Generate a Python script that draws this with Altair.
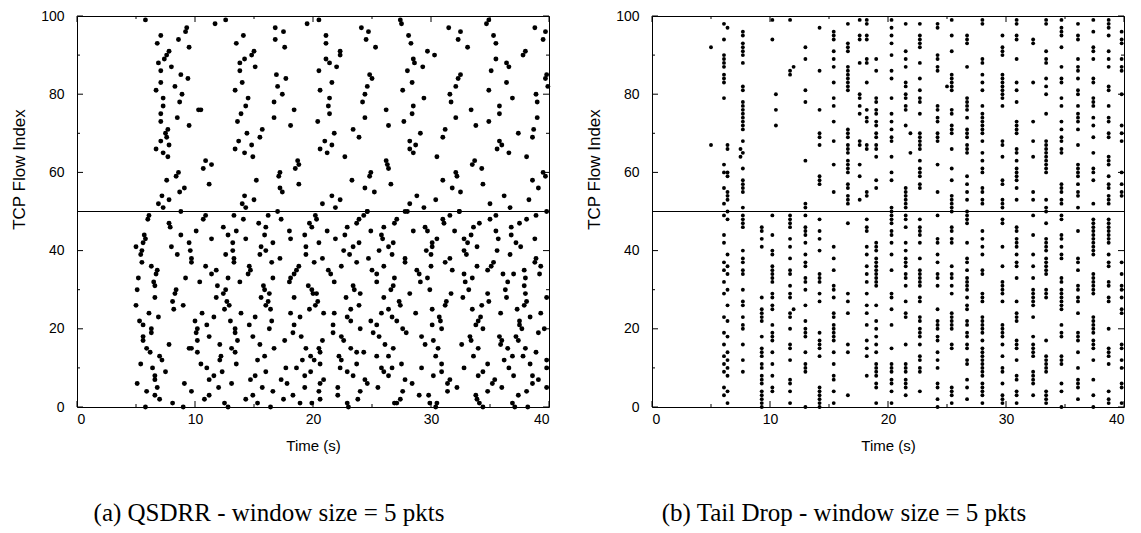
import altair as alt
import pandas as pd

# ---------------- data ----------------
# (a) QSDRR: (time s, flow index) pairs
qsdrr_upper = [
    (5.8,99),(7.1,95),(6.8,93),(9.3,97),(9.2,96),(8.6,94),(9.5,92),(7.8,91),(7.6,90),(7.4,89),(6.9,88),(8.0,87),
    (7.1,86),(8.8,85),(9.4,84),(7.1,83),(8.3,82),(6.7,81),(8.9,80),(7.3,79),(8.7,78),(7.3,77),(10.3,76),(10.5,76),
    (7.1,75),(8.5,74),(7.1,73),(9.5,72),(7.7,71),(7.5,70),(7.6,69),(7.1,68),(7.8,67),(6.7,66),(7.3,65),(7.7,64),
    (10.9,63),(11.4,62),(10.7,61),(8.6,60),(8.4,59),(7.6,58),(11.2,57),(9.1,56),(8.7,55),(7.2,54),(7.8,53),(6.9,52),
    (7.3,51),(8.8,50),
    (11.7,98),(12.6,99),(14.1,95),(13.5,93),(15.0,91),(14.8,90),(14.2,89),(13.8,88),(15.1,87),(13.8,86),(14.0,83),
    (13.4,81),(14.5,79),(14.3,77),(13.9,75),(13.6,73),(15.7,71),(14.4,70),(15.5,69),(13.7,68),(14.8,67),(13.4,66),
    (14.2,65),(14.9,64),(15.2,58),(14.2,54),(15.0,53),(14.0,52),(14.3,51),
    (16.8,97),(17.5,96),(16.8,94),(17.6,92),(16.9,85),(17.7,84),(17.0,82),(17.4,80),(16.7,78),(18.4,76),(16.7,74),
    (18.1,72),(18.7,63),(18.8,62),(18.5,61),(17.2,60),(17.1,59),(18.8,57),(17.2,56),(17.4,55),(17.0,50),(19.5,98),
    (20.5,99),(20.5,86),(20.6,81),(20.4,73),(20.6,66),
    (24.1,97),(24.7,96),(24.5,94),(25.3,92),(27.4,99),(27.5,98),(28.1,95),(28.3,93),(29.7,91),(30.3,90),(21.1,95),
    (21.1,93),(22.3,91),(22.3,90),(21.1,89),(21.4,88),(22.0,87),(21.6,83),(21.4,79),(21.3,77),(21.4,75),(21.8,70),
    (21.0,68),(21.6,67),(21.2,65),(22.7,64),(23.3,58),(23.4,71),(23.9,69),(24.4,74),(24.2,78),(24.4,80),(24.6,82),
    (24.8,85),(25.0,84),(26.2,76),(26.4,72),(26.2,63),(26.3,62),(26.4,61),(24.9,60),(24.8,59),(26.6,57),(24.4,56),
    (25.2,55),(21.6,54),(20.8,52),(21.9,51),(22.3,53),(24.6,50),
    (28.0,86),(28.5,89),(28.6,88),(29.3,87),(27.6,81),(28.4,83),(29.4,79),(28.5,77),(28.4,75),(27.7,73),(29.1,70),
    (28.2,68),(28.7,67),(28.2,66),(28.5,65),(30.5,64),(31.0,58),(28.2,52),(28.8,54),(29.4,51),(30.4,53),(27.8,50),
    (31.5,97),(32.5,96),(32.3,94),(33.1,92),(34.7,98),(34.9,99),(35.3,95),(35.5,93),(35.5,89),(36.4,88),(36.6,87),
    (35.1,86),(36.4,83),(34.9,81),(36.9,79),(35.8,77),(35.8,75),(34.9,73),(32.1,74),(33.4,76),(33.8,72),(31.7,78),
    (31.6,80),(32.1,82),(32.3,84),(32.5,85),(31.2,71),(31.0,69),(32.1,60),(32.2,59),(33.5,62),(33.7,63),(34.3,61),
    (34.4,57),(31.8,56),(32.5,55),(32.4,50),(35.0,52),(36.2,54),(36.7,51),(35.8,68),(36.0,67),(35.6,66),(36.6,65),
    (37.4,70),(37.8,90),(38.0,91),(38.8,97),(39.7,96),(39.5,94),(39.8,85),(39.7,84),(39.9,82),(38.9,80),(39.0,78),
    (39.0,74),(38.7,71),(38.6,69),(38.1,64),(39.5,60),(39.7,59),(38.6,58),(39.1,56),(38.3,53),(39.8,50),
]
qsdrr_lower_early = [
    (5.0,41),(5.7,44),(5.8,43),(5.6,42),(5.4,39),(5.5,40),(5.5,37),(5.2,33),(5.1,30),(5.0,26),(5.3,22),(5.6,21),
    (5.6,18),(5.6,17),(5.9,15),(6.2,14),(5.4,11),(5.1,6),(5.9,4),(6.6,3),(7.0,2),(5.8,0),(6.0,48),(6.1,49),(6.3,36),
    (6.8,35),(6.7,34),(6.5,32),(6.6,31),(6.6,28),(6.1,24),(6.9,23),(6.3,20),(6.3,19),(7.0,13),(7.2,12),(6.4,10),
    (7.5,9),(6.6,8),(6.6,7),(6.8,5),(7.8,47),(7.9,46),(8.0,41),(8.5,39),(8.8,44),(8.1,27),(8.4,30),(8.3,29),(8.2,25),
    (9.0,26),(7.8,16),(8.1,1),(9.2,33),(9.1,6),(9.0,0),(9.7,4),(9.6,40),(9.7,38),(9.7,37),(9.5,42),(10.1,45),
    (10.7,48),(10.9,49),(11.4,43),(10.4,32),(10.9,36),(11.4,34),(11.8,35),(10.0,22),(10.2,20),(10.1,19),(10.6,24),
    (10.2,17),(9.5,15),(9.7,15),(10.2,14),(10.5,11),(11.0,10),(11.2,18),(11.0,21),(11.6,23),(11.6,8),(11.2,7),
    (10.8,2),(11.2,3),(12.0,5),(12.5,1),(12.8,0),(12.1,12),(12.2,13),(12.1,16),(12.3,9),(13.1,6),(13.1,15),(13.4,14),
    (13.5,11),(13.0,22),(13.4,20),(13.4,19),(13.6,17),(13.9,24),(12.5,25),(12.9,26),(12.6,30),(12.4,29),(11.8,28),
    (12.7,27),(11.9,31),(12.8,33),(13.8,32),(12.6,39),(13.2,42),(13.2,40),(13.3,38),(13.3,37),(12.8,44),(12.4,46),
    (13.3,49),(13.5,45),(14.1,48),(14.3,43),(14.6,36),(14.7,35),(14.5,34),(14.9,18),(14.6,21),(15.1,23),(14.7,7),
    (14.3,2),(14.9,3),(15.3,1),(15.4,47),(16.2,49),(16.0,46),(17.3,48),(15.9,44),(15.6,41),(16.0,40),(15.5,39),
    (16.6,42),(15.8,31),(15.9,30),(16.3,29),(16.2,27),(15.6,28),(16.0,26),(16.4,25),(16.6,33),(16.5,37),(17.2,38),
    (16.5,22),(16.3,20),(15.5,16),(15.9,13),(15.3,12),(15.1,8),(16.0,9),(15.7,5),(16.4,0),(16.6,4),(16.7,15),
    (17.6,17),(17.3,7),(17.8,6),(17.5,2),(18.3,3),(18.9,1),(17.7,10),(18.1,33),(18.0,32),(18.4,34),(18.6,35),
    (18.8,36),(18.0,45),(18.1,43),(18.1,24),(18.4,28),(18.4,21),(18.3,19),(18.9,23),(19.0,18),(19.1,12),(18.6,10),
    (19.3,8),(19.3,5),(19.7,47),(19.9,46),(20.3,48),(20.2,49),(19.3,44),(19.4,41),(19.4,39),(20.1,37),(20.5,42),
    (19.6,31),(19.9,30),(20.0,29),(20.4,27),(20.2,26),(19.7,25),(19.4,15),(19.8,13),(20.1,12),(19.8,9),(20.5,15),
    (20.6,6),(20.5,4),(19.9,1),(20.6,2),
]
qsdrr_lower_late = [
    (21.2,45),(21.9,43),(22.7,44),(22.9,46),(23.7,47),(23.9,48),(24.3,49),(24.6,50),(22.6,40),(23.1,39),(23.4,41),
    (23.9,42),(20.8,38),(22.4,36),(23.7,37),(24.7,38),(21.3,35),(21.5,34),(21.8,32),(20.3,29),(20.9,24),(21.7,21),
    (21.7,19),(21.8,24),(20.8,17),(20.6,14),(20.6,11),(20.9,7),(22.1,5),(22.1,3),(22.2,13),(22.4,12),(22.3,10),
    (22.9,9),(23.4,8),(22.9,1),(23.0,0),(22.4,18),(23.2,15),(22.6,17),(22.9,23),(23.2,22),(23.2,25),(22.8,28),
    (23.4,31),(23.5,30),(24.0,29),(23.9,26),(24.0,20),(23.7,11),(23.7,14),(24.0,4),(23.8,2),(24.3,14),(24.4,7),
    (24.6,6),(25.5,5),(24.9,45),(25.8,44),(25.9,43),(26.0,46),(25.6,40),(26.4,41),(26.8,42),(26.0,36),(26.7,39),
    (25.0,35),(25.4,34),(25.4,32),(26.9,33),(26.8,31),(26.6,30),(26.0,28),(27.3,27),(27.4,26),(25.8,24),(26.4,25),
    (26.7,23),(27.1,22),(24.9,22),(25.1,19),(25.4,21),(25.6,18),(26.1,16),(26.8,15),(26.4,13),(25.4,13),(25.8,10),
    (26.0,9),(26.4,8),(26.7,10),(27.5,11),(27.6,20),(27.9,19),(26.9,1),(27.1,1),(27.4,2),(27.6,4),(27.8,7),(28.4,6),
    (29.2,10),(29.0,3),(29.8,3),(29.9,1),(30.4,0),(30.5,1),(30.2,8),(30.4,13),(30.9,11),(30.9,9),(31.4,6),(31.6,7),
    (31.4,4),(32.2,5),(33.8,3),(33.9,2),(34.1,1),(34.4,0),(34.8,4),(35.2,6),(35.4,7),(36.0,5),(36.9,1),(37.1,0),
    (37.4,3),(38.1,4),(38.2,0),(39.1,7),(38.6,6),(39.8,5),(39.8,12),(39.8,10),(38.4,11),(38.6,8),(38.0,15),(37.8,13),
    (38.9,14),(37.2,18),(37.4,17),(37.5,22),(37.5,21),(37.7,20),(37.3,25),(37.9,26),(38.1,27),(38.4,23),(39.1,19),
    (39.6,20),(39.3,24),(39.8,28),(38.0,29),(37.9,31),(38.0,33),(37.9,35),(38.8,37),(38.9,38),(39.3,36),(39.2,34),
    (37.0,34),(37.2,42),(37.6,41),(36.7,39),(36.8,46),(36.8,44),(37.5,47),(38.1,48),(38.9,49),(38.8,43),(35.5,45),
    (35.7,43),(35.5,49),(35.0,48),(34.1,47),(33.6,46),(33.4,44),(33.1,42),(32.8,43),(32.8,40),(33.0,39),(33.9,41),
    (35.6,40),(35.3,37),(35.1,36),(34.8,35),(33.9,36),(31.8,35),(31.2,37),(31.6,38),(32.0,45),(31.6,49),(32.4,50),
    (31.0,48),(31.1,47),(30.5,43),(30.1,42),(30.1,41),(30.0,39),(29.6,40),(29.7,45),(29.5,46),(30.0,36),(29.7,33),
    (29.9,30),(28.8,35),(29.0,34),(29.1,32),(27.8,38),(27.8,37),(28.5,45),(28.0,50),(27.1,48),(26.9,47),(28.7,24),
    (28.2,29),(30.1,25),(30.7,23),(30.8,22),(30.1,21),(30.9,20),(31.2,26),(31.3,27),(31.7,29),(32.9,32),(32.8,34),
    (33.5,33),(33.2,30),(32.7,28),(34.3,26),(33.5,25),(34.2,23),(34.0,22),(33.8,21),(34.4,20),(34.8,29),(34.9,27),
    (35.9,24),(36.4,28),(36.3,30),(36.5,32),(36.1,34),(33.3,18),(33.4,17),(32.6,16),(34.0,15),(30.2,17),(29.2,18),
    (29.5,16),(30.6,15),(33.6,13),(32.8,10),(34.4,9),(34.0,8),(34.8,11),(35.9,16),(35.8,18),(36.0,17),(36.5,15),
    (36.9,13),(36.2,12),(36.6,10),(37.0,8),
]

# (b) Tail Drop: columns of drops, (time s, [flow indices])
tail_columns = [
    (5.0, [92, 67]),
    (6.1, [98, 94, 90, 89, 88, 87, 85, 84, 83, 79, 62, 60, 56, 52, 49, 44, 42, 37, 35, 32, 29, 23, 19, 16, 13, 11, 9, 5, 3]),
    (6.4, [97, 67, 66, 60, 59, 55, 54, 53, 50, 48, 39, 36, 34, 30, 26, 22, 18, 14, 12, 10, 8, 4, 1]),
    (7.7, [96, 95, 93, 92, 91, 90, 88, 82, 81, 78, 77, 76, 75, 74, 73, 72, 71, 68, 65, 61, 58, 57, 56, 55, 51,
           49, 48, 47, 46, 40, 38, 37, 35, 34, 30, 27, 26, 23, 21, 20, 16, 12, 9]),
    (7.5, [66, 64]),
    (9.3, [46, 45, 43, 41, 28, 25, 24, 23, 22, 18, 15, 14, 13, 11, 10, 8, 7, 6, 4, 3, 2, 1, 0]),
    (10.2, [99, 94, 49, 44, 40, 39, 36, 35, 34, 33, 32, 29, 28, 26, 25, 21, 19, 18, 17, 14, 11, 8, 5, 4]),
    (10.5, [80, 76, 72]),
    (11.7, [99, 86, 85, 49, 48, 47, 46, 43, 41, 38, 35, 34, 31, 29, 28, 24, 23, 20, 16, 15, 12, 7, 6, 4, 1]),
    (12.0, [87, 25]),
    (13.0, [92, 89, 81, 78, 63, 52, 51, 49, 46, 45, 44, 42, 39, 37, 36, 33, 32, 30, 26, 22, 20, 19, 18, 14, 11, 10, 9, 0]),
    (14.2, [97, 86, 76, 70, 69, 67, 59, 58, 57, 48, 45, 43, 40, 34, 33, 32, 29, 27, 19, 17, 16, 15, 13, 5, 4, 3, 2, 1, 0]),
    (15.4, [96, 95, 94, 91, 89, 87, 83, 79, 77, 73, 68, 62, 55, 41, 38, 35, 31, 30, 28, 24, 23, 21, 20, 19, 18, 17,
            14, 11, 8, 7, 4, 1]),
    (16.6, [98, 93, 92, 91, 87, 86, 85, 84, 83, 82, 81, 71, 70, 69, 67, 66, 65, 63, 62, 61, 60, 57, 56, 54, 53, 52,
            47, 29, 27, 24, 16, 14, 3]),
    (17.6, [99, 95, 94, 88, 80, 79, 77, 75, 68, 67, 62, 59, 53]),
    (18.2, [99, 98, 95, 94, 89, 88, 83, 76, 74, 73, 67, 66, 55, 54, 48, 46, 45, 41, 39, 36, 34, 32, 29, 26, 24, 21,
            17, 15, 13, 8]),
    (19.0, [89, 86, 79, 78, 76, 75, 73, 72, 70, 69, 67, 66, 64, 58, 56, 42, 41, 40, 38, 37, 36, 35, 34, 33, 32, 31,
            26, 22, 20, 18, 16, 14, 11, 10, 9, 8, 6, 5, 1]),
    (20.3, [99, 97, 95, 93, 90, 86, 84, 79, 75, 73, 71, 69, 68, 64, 60, 58, 51, 50, 49, 48, 47, 45, 44, 42, 39, 35,
            29, 28, 25, 21, 15, 11, 10, 9, 7, 6, 4, 1]),
    (21.5, [98, 91, 89, 87, 83, 82, 80, 79, 77, 76, 72, 56, 55, 54, 53, 52, 51, 49, 48, 46, 42, 40, 38, 37, 36, 34,
            33, 31, 27, 24, 23, 16, 11, 10, 9, 7, 6, 5, 3]),
    (21.9, [70, 65]),
    (22.7, [98, 95, 94, 93, 92, 88, 84, 81, 79, 78, 75, 70, 69, 68, 67, 66, 63, 61, 60, 59, 57, 56, 48, 46, 45, 44,
            42, 38, 35, 34, 33, 32, 31, 28, 27, 23, 22, 20, 19, 18, 16, 13, 12, 10, 9, 4]),
    (24.2, [98, 97, 90, 89, 87, 86, 77, 76, 74, 73, 70, 69, 68, 62, 55, 49, 43, 42, 39, 37, 34, 33, 31, 25, 22, 21,
            20, 18, 17, 14, 12, 10, 6, 5, 2, 0]),
    (25.0, [82]),
    (25.4, [99, 95, 91, 85, 84, 83, 82, 81, 76, 75, 72, 71, 70, 66, 61, 58, 54, 53, 52, 51, 50, 46, 45, 43, 42, 36,
            34, 33, 31, 29, 24, 23, 22, 21, 20, 16, 15, 5, 4, 3, 1]),
    (26.7, [95, 94, 93, 87, 79, 78, 77, 76, 74, 71, 70, 69, 67, 66, 65, 59, 57, 55, 53, 50, 49, 48, 47, 42, 38, 37,
            35, 33, 32, 31, 30, 28, 26, 25, 22, 21, 19, 18, 16, 15, 12, 11, 7, 5, 2]),
    (28.0, [99, 98, 89, 88, 85, 83, 81, 77, 75, 74, 73, 72, 71, 70, 68, 65, 63, 61, 60, 56, 55, 53, 52, 45, 43, 41,
            39, 35, 34, 29, 28, 27, 23, 22, 21, 20, 19, 17, 15, 14, 13, 12, 11, 10, 9, 8, 6, 5, 4, 3, 1]),
    (29.7, [95, 92, 91, 90, 85, 84, 83, 82, 81, 80, 79, 77, 68, 67, 64, 58, 57, 53, 52, 51, 48, 47, 41, 36, 32, 31,
            30, 29, 27, 21, 20, 19, 18, 16, 13, 10, 9, 6, 3, 2, 1]),
    (30.9, [99, 98, 95, 94, 89, 83, 81, 78, 73, 72, 71, 70, 66, 65, 63, 61, 60, 59, 58, 56, 53, 46, 45, 43, 42, 41,
            39, 37, 36, 33, 27, 24, 23, 22, 17, 16, 15, 12, 8, 7, 4, 3, 1]),
    (32.3, [94, 93, 83, 73, 68, 64, 55, 53, 49, 44, 39, 36, 33, 30, 29, 28, 27, 26, 23, 18, 16, 15, 14, 13, 9, 8,
            7, 6, 3]),
    (33.4, [99, 98, 91, 89, 88, 84, 82, 80, 75, 68, 67, 66, 65, 64, 63, 62, 61, 60, 53, 51, 50, 47, 43, 42, 41, 40,
            38, 37, 36, 35, 34, 30, 29, 28, 17, 13, 12, 11, 10, 9, 4, 3, 2, 1]),
    (34.7, [99, 97, 96, 95, 92, 87, 84, 83, 79, 77, 73, 71, 69, 68, 66, 65, 57, 56, 55, 53, 52, 49, 48, 44, 43, 41,
            39, 38, 33, 32, 30, 29, 28, 27, 26, 25, 21, 19, 18, 13, 12, 11, 6, 4, 0]),
    (36.1, [98, 95, 94, 89, 87, 86, 84, 81, 80, 77, 75, 74, 73, 71, 67, 62, 61, 60, 59, 57, 55, 54, 51, 45, 38, 37,
            35, 31, 30, 28, 27, 24, 19, 18, 17, 14, 10, 7, 6, 5, 2]),
    (37.4, [99, 96, 92, 91, 89, 84, 83, 79, 78, 77, 74, 72, 69, 65, 61, 60, 58, 52, 48, 47, 46, 45, 44, 43, 42, 41,
            40, 39, 34, 33, 32, 31, 30, 29, 23, 22, 21, 20, 19, 17, 16, 15, 12, 7, 3, 0]),
    (38.7, [99, 98, 97, 95, 91, 89, 87, 82, 81, 77, 74, 73, 70, 69, 64, 63, 62, 59, 57, 56, 54, 53, 52, 48, 47, 46,
            45, 44, 43, 42, 39, 37, 36, 32, 31, 28, 27, 20, 15, 14, 13, 11, 4, 2, 1]),
    (39.8, [96, 94, 93, 89, 87, 86, 80, 72, 70, 68, 60, 57, 55, 54, 37, 34, 31, 30, 28, 25, 24, 16, 15, 12, 10, 6,
            5, 1]),
]

x_label_values = [0, 10, 20, 30, 40]
x_minor_values = [5, 15, 25, 35]
y_label_values = [0, 20, 40, 60, 80, 100]
y_minor_values = [10, 30, 50, 70, 90]
divider_flow = [50]

caption_a = "(a) QSDRR - window size = 5 pkts"
caption_b = "(b) Tail Drop - window size = 5 pkts"

# ---------------- chart ----------------
W, H = 472, 391
FONT = "Liberation Sans"

XS = alt.Scale(domain=[0, 40], nice=False, zero=False)
YS = alt.Scale(domain=[0, 100], nice=False, zero=False)
AX_X = alt.Axis(values=x_label_values, title="Time (s)", format="d", ticks=False, domain=False, grid=False,
                labelPadding=5, titlePadding=12, titleFontSize=15)
AX_Y = alt.Axis(values=y_label_values, title="TCP Flow Index", format="d", ticks=False, domain=False,
                grid=False, labelPadding=13, titlePadding=12, titleY=153, titleFontSize=17)


def xenc():
    return alt.X("time:Q", scale=XS, axis=AX_X)


def yenc():
    return alt.Y("flow:Q", scale=YS, axis=AX_Y)


def make_panel(times, flows, dot_size, caption):
    pts = pd.DataFrame({"time": times, "flow": flows})
    points = alt.Chart(pts).mark_circle(color="black", opacity=1, size=dot_size).encode(
        x=xenc(), y=yenc())
    divider = alt.Chart(pd.DataFrame({"flow": divider_flow})).mark_rule(
        color="black", strokeWidth=1).encode(y=yenc())

    layers = [points, divider]
    xmaj = pd.DataFrame({"time": x_label_values})
    xmin = pd.DataFrame({"time": x_minor_values})
    ymaj = pd.DataFrame({"flow": y_label_values})
    ymin = pd.DataFrame({"flow": y_minor_values})
    for df, ln in ((xmaj, 6), (xmin, 3)):
        for y0, y1 in ((H, H - ln), (0, ln)):
            layers.append(alt.Chart(df).mark_rule(color="black", strokeWidth=1).encode(
                x=xenc(), y=alt.value(y0), y2=alt.value(y1)))
    for df, ln in ((ymaj, 6), (ymin, 3)):
        for x0, x1 in ((0, ln), (W, W - ln)):
            layers.append(alt.Chart(df).mark_rule(color="black", strokeWidth=1).encode(
                y=yenc(), x=alt.value(x0), x2=alt.value(x1)))
    cap = alt.Chart(pd.DataFrame({"caption": [caption]})).mark_text(
        font="Liberation Serif", fontSize=25, align="center", baseline="alphabetic", color="black"
    ).encode(x=alt.value(192), y=alt.value(505), text="caption:N")
    layers.append(cap)
    return alt.layer(*layers).properties(width=W, height=H)


qsdrr_all = qsdrr_upper + qsdrr_lower_early + qsdrr_lower_late
left = make_panel([p[0] for p in qsdrr_all], [p[1] for p in qsdrr_all], 24, caption_a)

tail_t = [t for t, fl in tail_columns for _ in fl]
tail_f = [f for t, fl in tail_columns for f in fl]
right = make_panel(tail_t, tail_f, 15, caption_b)

chart = alt.hconcat(left, right, spacing=34).properties(
    padding={"left": 2, "top": 0, "right": 5, "bottom": 0}
).configure_view(stroke="black", strokeWidth=1).configure_axis(
    labelFont=FONT, labelFontSize=14, labelColor="black",
    titleFont=FONT, titleFontWeight="normal", titleColor="black",
)

chart.save("out.html", embed_options={"renderer": "svg", "actions": False})
